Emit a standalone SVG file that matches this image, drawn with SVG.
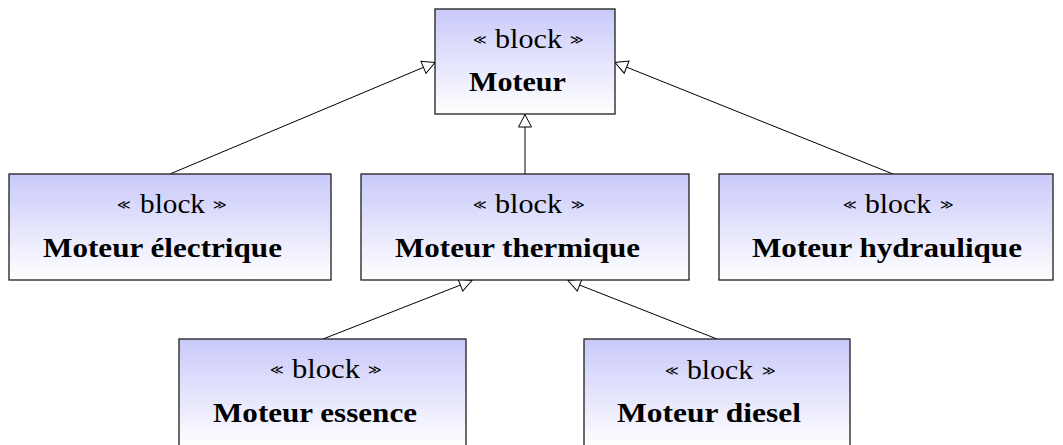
<svg xmlns="http://www.w3.org/2000/svg" width="1063" height="445" viewBox="0 0 1063 445">
  <defs>
    <linearGradient id="blockFill" x1="0" y1="0" x2="0" y2="1">
      <stop offset="0" stop-color="#c9c9fa"/>
      <stop offset="1" stop-color="#ffffff"/>
    </linearGradient>
    <marker id="gen" markerUnits="userSpaceOnUse" markerWidth="16" markerHeight="16" viewBox="-14 -8 16 16" refX="0" refY="0" orient="auto">
      <path d="M0,0 L-12.5,-6.5 L-12.5,6.5 Z" fill="#ffffff" stroke="#000000" stroke-width="1"/>
    </marker>
  </defs>
  <style>
    .box { fill: url(#blockFill); stroke: #1e1e1e; stroke-width: 1.3; }
    .st { font-family: "Liberation Serif", "DejaVu Serif", serif; font-size: 27px; fill: #000; }
    .gm { font-family: "DejaVu Sans", "Liberation Serif", serif; font-size: 13px; fill: #000; }
    .nm { font-family: "Liberation Serif", "DejaVu Serif", serif; font-size: 27px; font-weight: bold; fill: #000; }
    .edge { fill: none; stroke: #000; stroke-width: 1; marker-end: url(#gen); }
  </style>
  <rect width="1063" height="445" fill="#ffffff"/>

  <!-- generalisation connectors -->
  <g id="connectors">
    <line class="edge" x1="170" y1="174" x2="435" y2="62.5"/>
    <line class="edge" x1="525" y1="174" x2="525" y2="114.5"/>
    <line class="edge" x1="893" y1="174" x2="615" y2="62.5"/>
    <line class="edge" x1="323" y1="339" x2="472" y2="280.5"/>
    <line class="edge" x1="717" y1="339" x2="568" y2="280.5"/>
  </g>

  <g id="moteur">
    <rect class="box" x="435" y="9" width="180" height="105"/>
    <text class="gm" x="473" y="44">≪</text>
    <text class="st" x="495" y="48" textLength="67" lengthAdjust="spacingAndGlyphs">block</text>
    <text class="gm" x="570" y="44">≫</text>
    <text class="nm" x="469" y="91" textLength="97" lengthAdjust="spacingAndGlyphs">Moteur</text>
  </g>

  <g id="moteur-electrique">
    <rect class="box" x="9" y="174" width="322" height="106"/>
    <text class="gm" x="117" y="209">≪</text>
    <text class="st" x="140" y="213" textLength="65" lengthAdjust="spacingAndGlyphs">block</text>
    <text class="gm" x="213" y="209">≫</text>
    <text class="nm" x="43" y="257" textLength="239" lengthAdjust="spacingAndGlyphs">Moteur électrique</text>
  </g>

  <g id="moteur-thermique">
    <rect class="box" x="361" y="174" width="328" height="106"/>
    <text class="gm" x="473" y="209">≪</text>
    <text class="st" x="495" y="213" textLength="67" lengthAdjust="spacingAndGlyphs">block</text>
    <text class="gm" x="571" y="209">≫</text>
    <text class="nm" x="395" y="257" textLength="245" lengthAdjust="spacingAndGlyphs">Moteur thermique</text>
  </g>

  <g id="moteur-hydraulique">
    <rect class="box" x="719" y="174" width="334" height="106"/>
    <text class="gm" x="843" y="209">≪</text>
    <text class="st" x="865" y="213" textLength="66" lengthAdjust="spacingAndGlyphs">block</text>
    <text class="gm" x="940" y="209">≫</text>
    <text class="nm" x="752" y="257" textLength="270" lengthAdjust="spacingAndGlyphs">Moteur hydraulique</text>
  </g>

  <g id="moteur-essence">
    <rect class="box" x="179" y="339" width="287" height="108"/>
    <text class="gm" x="270" y="374">≪</text>
    <text class="st" x="292" y="378" textLength="68" lengthAdjust="spacingAndGlyphs">block</text>
    <text class="gm" x="368" y="374">≫</text>
    <text class="nm" x="213" y="422" textLength="204" lengthAdjust="spacingAndGlyphs">Moteur essence</text>
  </g>

  <g id="moteur-diesel">
    <rect class="box" x="584" y="339" width="266" height="108"/>
    <text class="gm" x="665" y="375">≪</text>
    <text class="st" x="687" y="379" textLength="66" lengthAdjust="spacingAndGlyphs">block</text>
    <text class="gm" x="762" y="375">≫</text>
    <text class="nm" x="617" y="422" textLength="184" lengthAdjust="spacingAndGlyphs">Moteur diesel</text>
  </g>
</svg>
